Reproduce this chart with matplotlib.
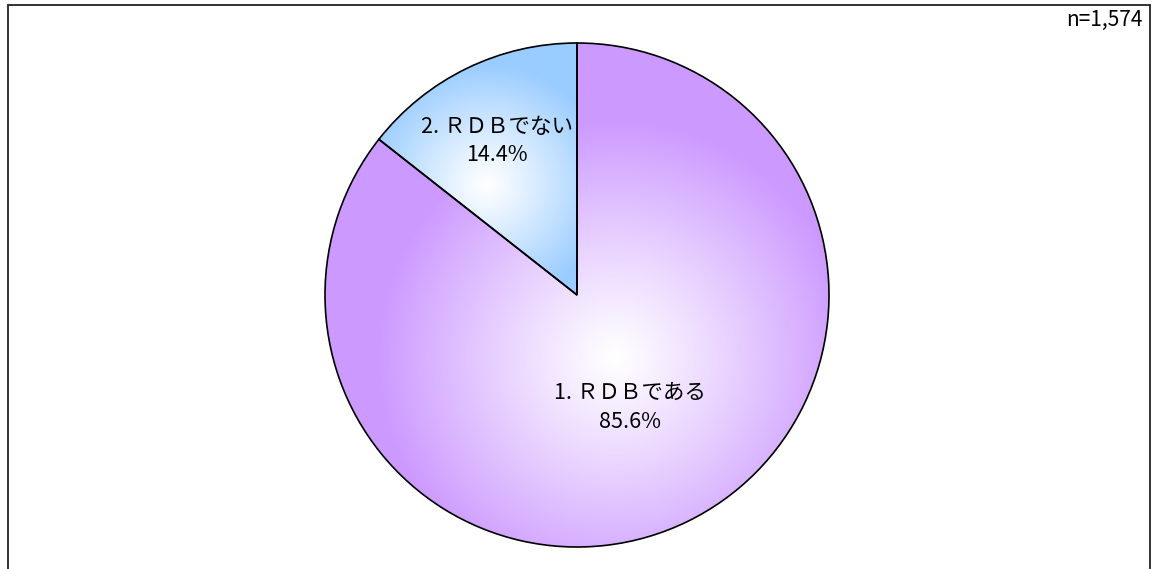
import numpy as np
import matplotlib
matplotlib.use("Agg")
import matplotlib.pyplot as plt
from matplotlib.patches import Rectangle
from matplotlib.colors import to_rgb

plt.rcParams['font.family'] = ['Noto Sans CJK JP', 'DejaVu Sans']

# Survey answers (n=1,574)
categories = ["1. ＲＤＢである", "2. ＲＤＢでない"]
shares = [85.6, 14.4]
n_total = "1,574"

edge_colors = ["#CC99FF", "#99CCFF"]
# where each slice's gradient is lightest, and how fast it fades to the edge colour
focus = [(0.15, -0.25), (-0.36, 0.44)]
spread = [0.95, 0.48]
label_pos = [(0.21, -0.446), (-0.317, 0.611)]

W, H = 1157, 569
fig = plt.figure(figsize=(W / 100, H / 100), dpi=100)

# outer frame (open at the bottom)
fig.patches.append(Rectangle((8 / W, -0.05), (1150 - 8) / W, 1.05 - 5 / H,
                             transform=fig.transFigure, fill=False,
                             edgecolor="#222222", linewidth=1.3))

r_px = 252
cx, cy = 577, 295
ax = fig.add_axes([(cx - r_px) / W, (H - cy - r_px) / H, 2 * r_px / W, 2 * r_px / H])

wedges, _ = ax.pie(shares, startangle=90, counterclock=False, radius=1.0,
                   colors=edge_colors,
                   wedgeprops=dict(edgecolor="black", linewidth=1.2))
ax.set_xlim(-1, 1)
ax.set_ylim(-1, 1)
ax.set_aspect("equal")
ax.axis("off")

# radial white-to-colour shading clipped to each slice
xs = np.linspace(-1.0, 1.0, 600)
gx, gy = np.meshgrid(xs, xs)
for w, col, (fx, fy), s in zip(wedges, edge_colors, focus, spread):
    d = np.hypot(gx - fx, gy - fy) / s
    t = np.clip(d, 0, 1) ** 1.1
    c = np.array(to_rgb(col))
    img = (1 - t[..., None]) * np.ones(3) + t[..., None] * c
    im = ax.imshow(img, extent=[-1, 1, -1, 1], origin="lower",
                   zorder=w.get_zorder() - 0.5, interpolation="bilinear")
    im.set_clip_path(w)
    w.set_facecolor("none")
    w.set_zorder(3)
    w.set_clip_on(False)

for name, v, (lx, ly) in zip(categories, shares, label_pos):
    ax.text(lx, ly, f"{name}\n{v:.1f}%", ha="center", va="center",
            fontsize=15.5, linespacing=1.4, zorder=5)

fig.text(1143 / W, 1 - 20 / H, f"n={n_total}", ha="right", va="center", fontsize=15)

fig.savefig("out.png", dpi=100)
